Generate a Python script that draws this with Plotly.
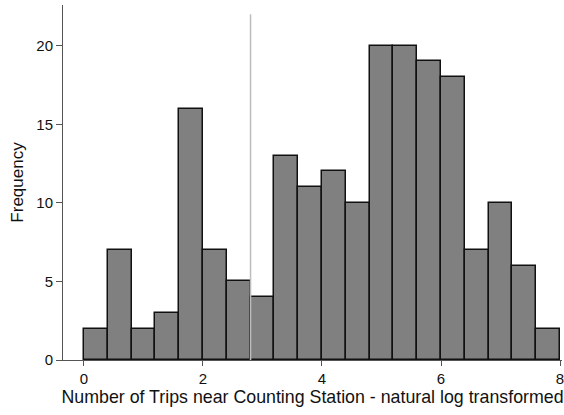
import plotly.graph_objects as go

bin_left = [0.0, 0.4, 0.8, 1.2, 1.6, 2.0, 2.4, 2.8, 3.2, 3.6,
            4.0, 4.4, 4.8, 5.2, 5.6, 6.0, 6.4, 6.8, 7.2, 7.6]
bin_width = 0.4
counts = [2, 7, 2, 3, 16, 7, 5, 4, 13, 11, 12, 10, 20, 20, 19, 18, 7, 10, 6, 2]
cutoff_x = 2.8
cutoff_top = 22
x_ticks = [0, 2, 4, 6, 8]
y_ticks = [0, 5, 10, 15, 20]

centers = [b + bin_width / 2 for b in bin_left]

fig = go.Figure()
fig.add_trace(go.Bar(
    x=centers, y=counts, width=[bin_width] * len(counts),
    marker=dict(color="#808080", line=dict(color="#111111", width=1.5)),
    showlegend=False, hoverinfo="x+y",
))
fig.add_trace(go.Scatter(
    x=[cutoff_x, cutoff_x], y=[0, cutoff_top], mode="lines",
    line=dict(color="#bdbdbd", width=1.5), showlegend=False, hoverinfo="skip",
))

font_family = "Liberation Sans, Arial, Helvetica, sans-serif"
fig.update_layout(
    width=564, height=415,
    margin=dict(l=63, r=0, t=5, b=55),
    plot_bgcolor="white", paper_bgcolor="white",
    font=dict(family=font_family, size=15, color="#111111"),
    bargap=0,
    xaxis=dict(
        range=[-0.351, 8.033], tickvals=x_ticks, ticktext=[str(v) for v in x_ticks],
        showgrid=False, zeroline=False, showline=True, linecolor="#555555", linewidth=1,
        ticks="outside", ticklen=5, tickcolor="#555555",
        tickfont=dict(size=15), ticklabeloverflow="allow",
        title=dict(text="Number of Trips near Counting Station - natural log transformed",
                   font=dict(size=17.8), standoff=2),
    ),
    yaxis=dict(
        range=[0, 22.59], tickvals=y_ticks, ticktext=[str(v) for v in y_ticks],
        showgrid=False, zeroline=False, showline=True, linecolor="#555555", linewidth=1,
        ticks="outside", ticklen=6, tickcolor="#555555",
        tickfont=dict(size=15),
        title=dict(text="Frequency", font=dict(size=17), standoff=8),
    ),
)

fig.write_html("out.html")
